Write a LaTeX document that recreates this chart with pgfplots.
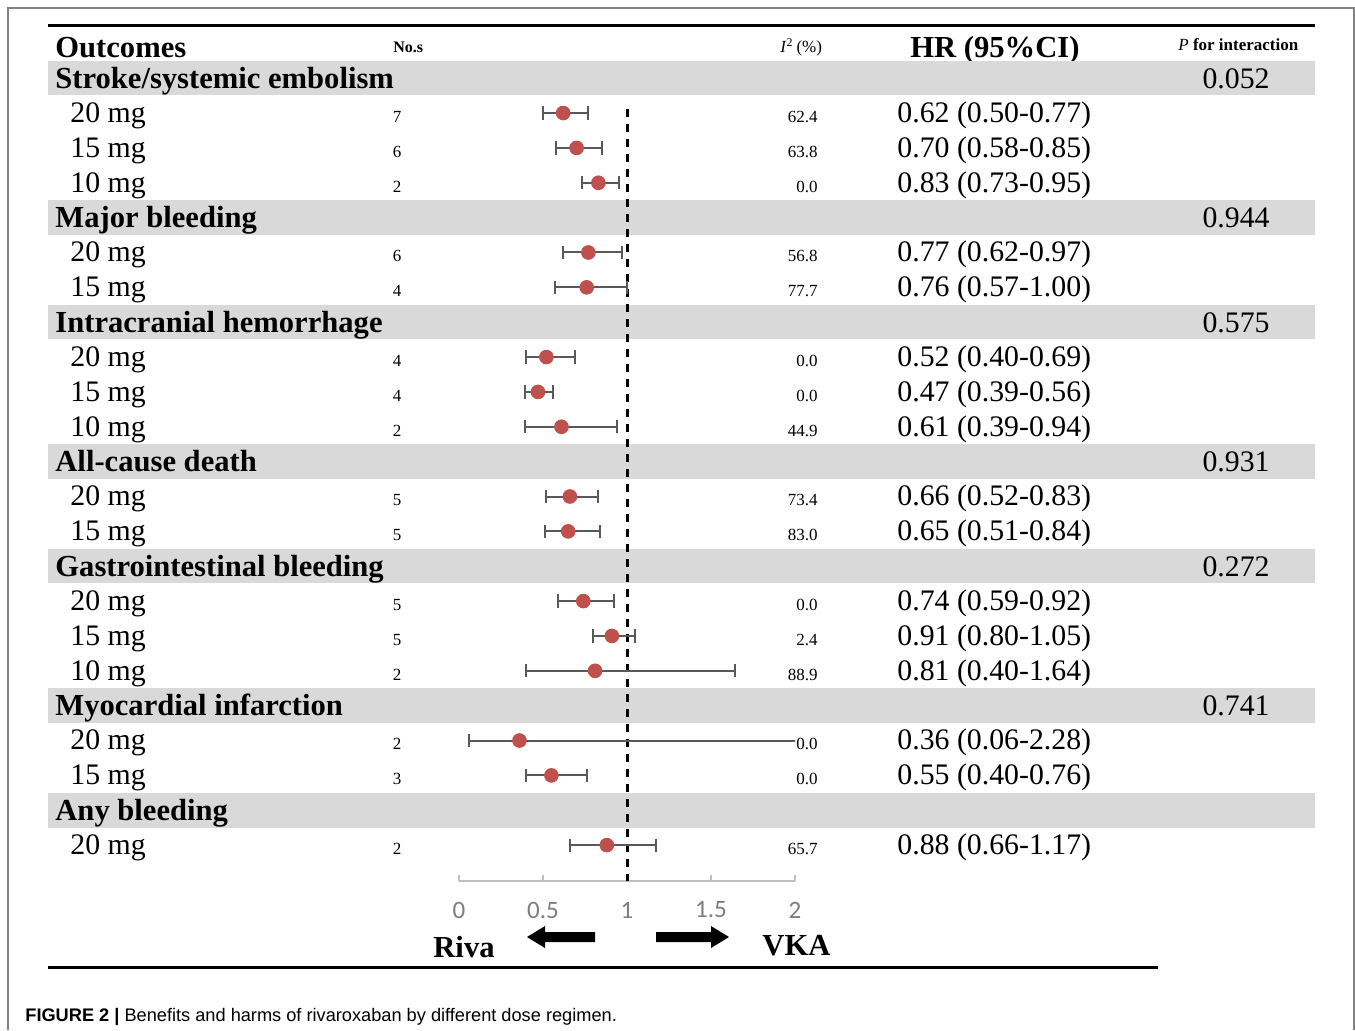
\documentclass[border=0pt]{standalone}
\usepackage{fontspec}
\setmainfont{Liberation Serif}
\newfontfamily\capfont{Liberation Sans}
\newfontfamily\tickfont{Carlito}
\usepackage{pgfplots}
\usepackage{pgfplotstable}
\pgfplotsset{compat=1.18}
\definecolor{bandgray}{RGB}{217,217,217}
\definecolor{dotred}{RGB}{192,80,77}
\definecolor{whisk}{RGB}{89,89,89}
\definecolor{axgray}{RGB}{191,191,191}
\definecolor{tickgray}{RGB}{125,125,125}
\definecolor{framegray}{RGB}{130,130,130}
\newcommand{\fbig}{\fontsize{14.9}{16}\selectfont}
\newcommand{\fbold}{\fontsize{15.3}{17}\selectfont\bfseries}
\newcommand{\fsmall}{\fontsize{8.5}{10}\selectfont}
\newcommand{\fsmallb}{\fontsize{8}{10}\selectfont\bfseries}
% y = position counted from the bottom row (0 = Any bleeding 20 mg)
\pgfplotstableread{
y  hr   lo   hi
21 0.62 0.50 0.77
20 0.70 0.58 0.85
19 0.83 0.73 0.95
17 0.77 0.62 0.97
16 0.76 0.57 1.00
14 0.52 0.40 0.69
13 0.47 0.39 0.56
12 0.61 0.39 0.94
10 0.66 0.52 0.83
9  0.65 0.51 0.84
7  0.74 0.59 0.92
6  0.91 0.80 1.05
5  0.81 0.40 1.64
3  0.36 0.06 2.28
2  0.55 0.40 0.76
0  0.88 0.66 1.17
}\hrdata
\newcommand{\rowtxt}[5]{%
  \pgfmathsetmacro\yb{78+34.86*#1+9.5}
  \node[anchor=base west] at (70,\yb) {\fbig #2};
  \node[anchor=base] at (397,\yb) {\fsmall #3};
  \node[anchor=base east] at (818,\yb) {\fsmall #4};
  \node[anchor=base west] at (897,\yb) {\fbig #5};
}
\newcommand{\band}[3]{%
  \pgfmathsetmacro\yc{78+34.86*#1}
  \fill[bandgray] (48,\yc-17.43) rectangle (1315,\yc+17.43);
  \node[anchor=base west] at (55,\yc+10) {\fbold #2};
  \node[anchor=base east] at (1270,\yc+10) {\fbig #3};
}
\begin{document}
\begin{tikzpicture}
\begin{scope}[x=0.5pt,y=-0.5pt,every node/.style={inner sep=0pt}]
  \useasboundingbox (0,0) rectangle (1355,1030);
  \fill[white] (0,0) rectangle (1355,1030);
  \draw[framegray,line width=0.8pt] (8,1030) -- (8,8) -- (1354,8) -- (1354,1030);
  \draw[black,line width=1.5pt] (48,25) -- (1315,25);
  \draw[black,line width=1.5pt] (48,967) -- (1158,967);
  % header
  \node[anchor=base west] at (55,57) {\fbold Outcomes};
  \node[anchor=base west] at (393,52) {\fsmallb No.s};
  \node[anchor=base west] at (780,52) {\fsmall\textit{I}\textsuperscript{2}\,(\%)};
  \node[anchor=base west] at (910,57) {\fbold HR (95\%CI)};
  \node[anchor=base west] at (1178,50) {\fsmall\textit{P} \textbf{for interaction}};
  % bands
  \band{0}{Stroke/systemic embolism}{0.052}
  \band{4}{Major bleeding}{0.944}
  \band{7}{Intracranial hemorrhage}{0.575}
  \band{11}{All-cause death}{0.931}
  \band{14}{Gastrointestinal bleeding}{0.272}
  \band{18}{Myocardial infarction}{0.741}
  \band{21}{Any bleeding}{}
  % rows
  \rowtxt{1}{20 mg}{7}{62.4}{0.62 (0.50-0.77)}
  \rowtxt{2}{15 mg}{6}{63.8}{0.70 (0.58-0.85)}
  \rowtxt{3}{10 mg}{2}{0.0}{0.83 (0.73-0.95)}
  \rowtxt{5}{20 mg}{6}{56.8}{0.77 (0.62-0.97)}
  \rowtxt{6}{15 mg}{4}{77.7}{0.76 (0.57-1.00)}
  \rowtxt{8}{20 mg}{4}{0.0}{0.52 (0.40-0.69)}
  \rowtxt{9}{15 mg}{4}{0.0}{0.47 (0.39-0.56)}
  \rowtxt{10}{10 mg}{2}{44.9}{0.61 (0.39-0.94)}
  \rowtxt{12}{20 mg}{5}{73.4}{0.66 (0.52-0.83)}
  \rowtxt{13}{15 mg}{5}{83.0}{0.65 (0.51-0.84)}
  \rowtxt{15}{20 mg}{5}{0.0}{0.74 (0.59-0.92)}
  \rowtxt{16}{15 mg}{5}{2.4}{0.91 (0.80-1.05)}
  \rowtxt{17}{10 mg}{2}{88.9}{0.81 (0.40-1.64)}
  \rowtxt{19}{20 mg}{2}{0.0}{0.36 (0.06-2.28)}
  \rowtxt{20}{15 mg}{3}{0.0}{0.55 (0.40-0.76)}
  \rowtxt{22}{20 mg}{2}{65.7}{0.88 (0.66-1.17)}
  % arrows and labels
  \fill[black] (595,932) -- (545,932) -- (545,926) -- (527,937) -- (545,948) -- (545,942) -- (595,942) -- cycle;
  \fill[black] (656,932) -- (711,932) -- (711,926) -- (729,937) -- (711,948) -- (711,942) -- (656,942) -- cycle;
  \node[anchor=base west] at (433,957) {\fbold Riva};
  \node[anchor=base west] at (762,955) {\fbold VKA};
  % caption
  \node[anchor=base west] at (25,1021.5) {\capfont\fontsize{9.1}{11}\selectfont\textbf{FIGURE 2 |} Benefits and harms of rivaroxaban by different dose regimen.};
\end{scope}
\begin{axis}[
  at={(229.5pt,-440.5pt)}, anchor=south west,
  scale only axis, width=168pt, height=411.87pt,
  xmin=0, xmax=2, ymin=-1.03, ymax=22.6,
  axis x line*=bottom, axis y line=none,
  x axis line style={axgray, line width=1pt},
  xtick={0,0.5,1,1.5,2}, xticklabels={0,0.5,1,1.5,2},
  xtick align=inside, major tick length=3pt,
  x tick style={axgray, line width=1pt},
  xticklabel style={font=\tickfont\fontsize{12.5}{14}\selectfont, text=tickgray, anchor=center, yshift=-14.5pt},
  ytick=\empty,
  clip=true,
]
  \addplot[black, line width=1.5pt, dash pattern=on 4pt off 3.5pt] coordinates {(1,21.11) (1,-1.03)};
  \addplot[draw=none, mark=none, forget plot,
    error bars/.cd, x dir=both, x explicit,
    error bar style={whisk, line width=1pt},
    error mark options={rotate=90, whisk, line width=1pt, mark size=3.3pt}]
    table[x=hr, y=y, x error plus expr=\thisrow{hi}-\thisrow{hr}, x error minus expr=\thisrow{hr}-\thisrow{lo}] {\hrdata};
  \addplot[only marks, mark=*, mark size=3.45pt, mark options={fill=dotred, draw=dotred}] table[x=hr, y=y] {\hrdata};
\end{axis}
\end{tikzpicture}
\end{document}
